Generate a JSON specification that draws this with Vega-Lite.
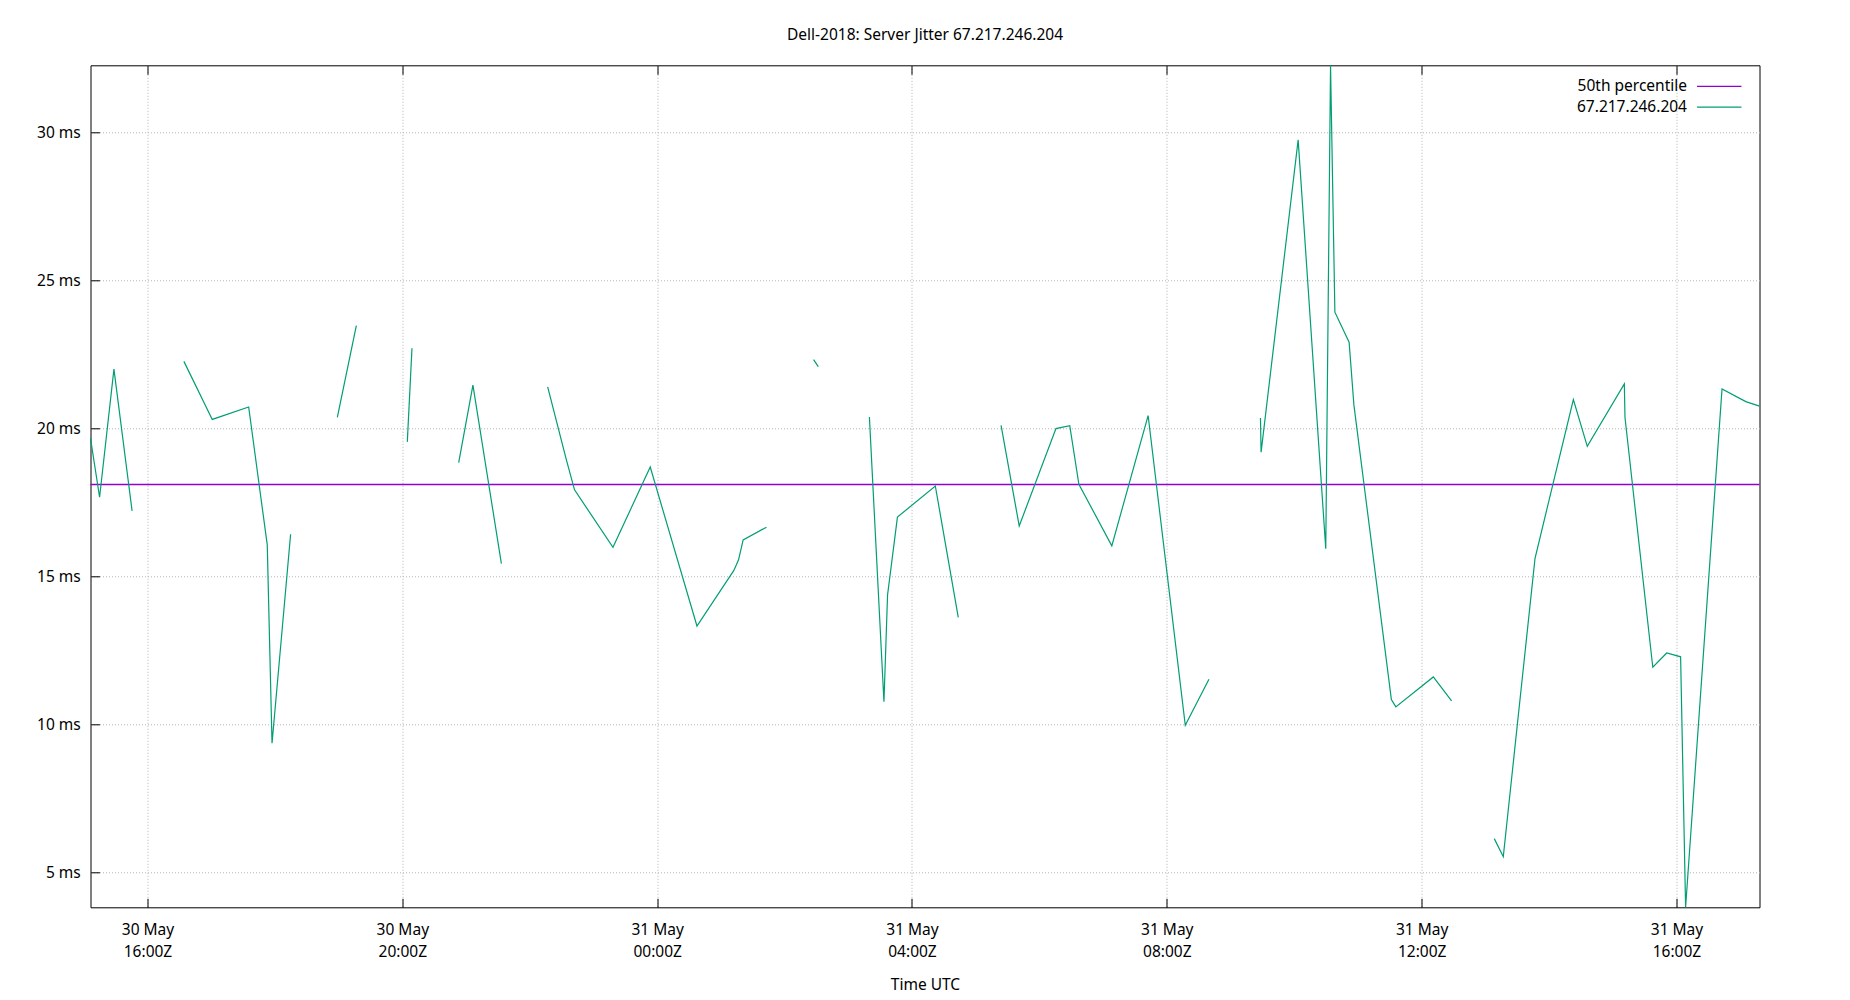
{
  "$schema": "https://vega.github.io/schema/vega-lite/v6.json",
  "width": 1669,
  "height": 842,
  "autosize": {"type": "none"},
  "padding": {"left": 90.5, "top": 65.3, "right": 90.5, "bottom": 92.7},
  "background": "white",
  "title": {
    "text": "Dell-2018: Server Jitter 67.217.246.204",
    "anchor": "middle",
    "offset": 19.5,
    "font": "Noto Sans",
    "fontSize": 15.5,
    "fontWeight": "normal",
    "color": "#000"
  },
  "config": {
    "view": {"stroke": "#000", "strokeWidth": 1},
    "font": "Noto Sans",
    "axis": {
      "domain": false,
      "tickColor": "#000",
      "tickSize": -9,
      "labelColor": "#000",
      "labelFont": "Noto Sans",
      "labelFontSize": 15.5,
      "labelFlush": false,
      "labelOverlap": false,
      "labelBound": false,
      "gridColor": "#b4b4b4",
      "gridDash": [1, 2],
      "gridWidth": 1,
      "titleFont": "Noto Sans",
      "titleFontSize": 15.5,
      "titleFontWeight": "normal",
      "titleColor": "#000"
    }
  },
  "datasets": {
    "jitter": [
      {"t": "2023-05-30T15:06:20Z", "v": 19.66, "seg": 1},
      {"t": "2023-05-30T15:14:54Z", "v": 17.67, "seg": 1},
      {"t": "2023-05-30T15:28:24Z", "v": 22.0, "seg": 1},
      {"t": "2023-05-30T15:45:30Z", "v": 17.21, "seg": 1},

      {"t": "2023-05-30T16:34:18Z", "v": 22.26, "seg": 2},
      {"t": "2023-05-30T17:01:00Z", "v": 20.3, "seg": 2},
      {"t": "2023-05-30T17:35:18Z", "v": 20.72, "seg": 2},
      {"t": "2023-05-30T17:52:48Z", "v": 16.06, "seg": 2},
      {"t": "2023-05-30T17:57:18Z", "v": 9.36, "seg": 2},
      {"t": "2023-05-30T18:14:48Z", "v": 16.42, "seg": 2},

      {"t": "2023-05-30T18:58:48Z", "v": 20.37, "seg": 3},
      {"t": "2023-05-30T19:16:42Z", "v": 23.47, "seg": 3},

      {"t": "2023-05-30T20:04:42Z", "v": 19.54, "seg": 4},
      {"t": "2023-05-30T20:09:06Z", "v": 22.7, "seg": 4},

      {"t": "2023-05-30T20:53:06Z", "v": 18.84, "seg": 5},
      {"t": "2023-05-30T21:06:30Z", "v": 21.46, "seg": 5},
      {"t": "2023-05-30T21:33:18Z", "v": 15.43, "seg": 5},

      {"t": "2023-05-30T22:16:54Z", "v": 21.4, "seg": 6},
      {"t": "2023-05-30T22:34:24Z", "v": 18.95, "seg": 6},
      {"t": "2023-05-30T22:42:12Z", "v": 17.92, "seg": 6},
      {"t": "2023-05-30T23:18:24Z", "v": 15.98, "seg": 6},
      {"t": "2023-05-30T23:53:30Z", "v": 18.69, "seg": 6},
      {"t": "2023-05-31T00:37:30Z", "v": 13.32, "seg": 6},
      {"t": "2023-05-31T01:12:06Z", "v": 15.19, "seg": 6},
      {"t": "2023-05-31T01:16:36Z", "v": 15.55, "seg": 6},
      {"t": "2023-05-31T01:21:00Z", "v": 16.23, "seg": 6},
      {"t": "2023-05-31T01:43:00Z", "v": 16.66, "seg": 6},

      {"t": "2023-05-31T02:27:18Z", "v": 22.32, "seg": 7},
      {"t": "2023-05-31T02:31:48Z", "v": 22.08, "seg": 7},

      {"t": "2023-05-31T03:19:54Z", "v": 20.38, "seg": 8},
      {"t": "2023-05-31T03:33:36Z", "v": 10.76, "seg": 8},
      {"t": "2023-05-31T03:37:00Z", "v": 14.37, "seg": 8},
      {"t": "2023-05-31T03:46:18Z", "v": 17.0, "seg": 8},
      {"t": "2023-05-31T04:22:00Z", "v": 18.05, "seg": 8},
      {"t": "2023-05-31T04:43:36Z", "v": 13.61, "seg": 8},

      {"t": "2023-05-31T05:23:54Z", "v": 20.1, "seg": 9},
      {"t": "2023-05-31T05:41:00Z", "v": 16.7, "seg": 9},
      {"t": "2023-05-31T06:15:36Z", "v": 19.99, "seg": 9},
      {"t": "2023-05-31T06:28:36Z", "v": 20.09, "seg": 9},
      {"t": "2023-05-31T06:37:12Z", "v": 18.11, "seg": 9},
      {"t": "2023-05-31T07:08:12Z", "v": 16.03, "seg": 9},
      {"t": "2023-05-31T07:42:24Z", "v": 20.43, "seg": 9},
      {"t": "2023-05-31T08:17:24Z", "v": 9.97, "seg": 9},
      {"t": "2023-05-31T08:39:42Z", "v": 11.52, "seg": 9},

      {"t": "2023-05-31T09:28:12Z", "v": 20.35, "seg": 10},
      {"t": "2023-05-31T09:28:48Z", "v": 19.19, "seg": 10},
      {"t": "2023-05-31T10:03:42Z", "v": 29.74, "seg": 10},
      {"t": "2023-05-31T10:29:42Z", "v": 15.93, "seg": 10},
      {"t": "2023-05-31T10:34:12Z", "v": 32.26, "seg": 10},
      {"t": "2023-05-31T10:38:18Z", "v": 23.92, "seg": 10},
      {"t": "2023-05-31T10:51:42Z", "v": 22.91, "seg": 10},
      {"t": "2023-05-31T10:56:12Z", "v": 20.79, "seg": 10},
      {"t": "2023-05-31T11:31:30Z", "v": 10.84, "seg": 10},
      {"t": "2023-05-31T11:35:42Z", "v": 10.59, "seg": 10},
      {"t": "2023-05-31T12:11:00Z", "v": 11.6, "seg": 10},
      {"t": "2023-05-31T12:28:12Z", "v": 10.79, "seg": 10},

      {"t": "2023-05-31T13:08:24Z", "v": 6.14, "seg": 11},
      {"t": "2023-05-31T13:16:54Z", "v": 5.53, "seg": 11},
      {"t": "2023-05-31T13:46:48Z", "v": 15.61, "seg": 11},
      {"t": "2023-05-31T14:22:54Z", "v": 20.97, "seg": 11},
      {"t": "2023-05-31T14:36:00Z", "v": 19.39, "seg": 11},
      {"t": "2023-05-31T15:10:54Z", "v": 21.5, "seg": 11},
      {"t": "2023-05-31T15:11:30Z", "v": 20.37, "seg": 11},
      {"t": "2023-05-31T15:37:42Z", "v": 11.93, "seg": 11},
      {"t": "2023-05-31T15:50:48Z", "v": 12.41, "seg": 11},
      {"t": "2023-05-31T16:03:54Z", "v": 12.28, "seg": 11},
      {"t": "2023-05-31T16:08:36Z", "v": 3.82, "seg": 11},
      {"t": "2023-05-31T16:42:54Z", "v": 21.33, "seg": 11},
      {"t": "2023-05-31T17:05:18Z", "v": 20.9, "seg": 11},
      {"t": "2023-05-31T17:18:12Z", "v": 20.75, "seg": 11}
    ]
  },
  "layer": [
    {
      "data": {"values": [{"label": "50th percentile", "p50": 18.1}]},
      "mark": {"type": "rule", "strokeWidth": 1.3},
      "encoding": {
        "y": {
          "field": "p50",
          "type": "quantitative",
          "scale": {"zero": false, "nice": false},
          "axis": {
            "orient": "left",
            "title": null,
            "grid": true,
            "values": [5, 10, 15, 20, 25, 30],
            "labelExpr": "datum.value + ' ms'",
            "labelPadding": 19.2
          }
        },
        "color": {
          "field": "label",
          "type": "nominal",
          "scale": {
            "domain": ["50th percentile", "67.217.246.204"],
            "range": ["#9400d3", "#009e73"]
          },
          "legend": {
            "title": null,
            "orient": "none",
            "legendX": 1621,
            "legendY": 13.4,
            "padding": 0,
            "symbolType": "M-8,0H8",
            "symbolSize": 30.8,
            "symbolStrokeWidth": 1.3,
            "labelAlign": "right",
            "labelOffset": -40,
            "labelFont": "Noto Sans",
            "labelFontSize": 15.5,
            "labelColor": "#000",
            "labelLimit": 0,
            "rowPadding": 3.6
          }
        }
      }
    },
    {
      "data": {"name": "jitter"},
      "mark": {"type": "line", "strokeWidth": 1.2},
      "encoding": {
        "x": {
          "field": "t",
          "type": "temporal",
          "scale": {"type": "utc", "nice": false},
          "axis": {
            "orient": "bottom",
            "title": "Time UTC",
            "titleBaseline": "alphabetic",
            "titleY": 82,
            "grid": true,
            "values": [
              {"year": 2023, "month": 5, "date": 30, "hours": 16, "utc": true},
              {"year": 2023, "month": 5, "date": 30, "hours": 20, "utc": true},
              {"year": 2023, "month": 5, "date": 31, "hours": 0, "utc": true},
              {"year": 2023, "month": 5, "date": 31, "hours": 4, "utc": true},
              {"year": 2023, "month": 5, "date": 31, "hours": 8, "utc": true},
              {"year": 2023, "month": 5, "date": 31, "hours": 12, "utc": true},
              {"year": 2023, "month": 5, "date": 31, "hours": 16, "utc": true}
            ],
            "labelExpr": "[utcFormat(datum.value, '%d %b'), utcFormat(datum.value, '%H:%MZ')]",
            "labelBaseline": "top",
            "labelAlign": "center",
            "labelLineHeight": 22,
            "labelPadding": 24
          }
        },
        "y": {
          "field": "v",
          "type": "quantitative",
          "scale": {"zero": false, "nice": false},
          "axis": {
            "orient": "left",
            "title": null,
            "grid": true,
            "values": [5, 10, 15, 20, 25, 30],
            "labelExpr": "datum.value + ' ms'",
            "labelPadding": 19.2
          }
        },
        "detail": {"field": "seg", "type": "nominal"},
        "color": {"datum": "67.217.246.204", "type": "nominal"}
      }
    },
    {
      "data": {"name": "jitter"},
      "mark": {"type": "line", "opacity": 0},
      "encoding": {
        "x": {
          "field": "t",
          "type": "temporal",
          "axis": {
            "orient": "top",
            "title": null,
            "grid": false,
            "labels": false,
            "values": [
              {"year": 2023, "month": 5, "date": 30, "hours": 16, "utc": true},
              {"year": 2023, "month": 5, "date": 30, "hours": 20, "utc": true},
              {"year": 2023, "month": 5, "date": 31, "hours": 0, "utc": true},
              {"year": 2023, "month": 5, "date": 31, "hours": 4, "utc": true},
              {"year": 2023, "month": 5, "date": 31, "hours": 8, "utc": true},
              {"year": 2023, "month": 5, "date": 31, "hours": 12, "utc": true},
              {"year": 2023, "month": 5, "date": 31, "hours": 16, "utc": true}
            ]
          }
        },
        "y": {
          "field": "v",
          "type": "quantitative",
          "axis": {
            "orient": "left",
            "title": null,
            "grid": true,
            "values": [5, 10, 15, 20, 25, 30],
            "labelExpr": "datum.value + ' ms'",
            "labelPadding": 19.2
          }
        },
        "detail": {"field": "seg", "type": "nominal"}
      }
    }
  ],
  "resolve": {"axis": {"x": "independent"}}
}
